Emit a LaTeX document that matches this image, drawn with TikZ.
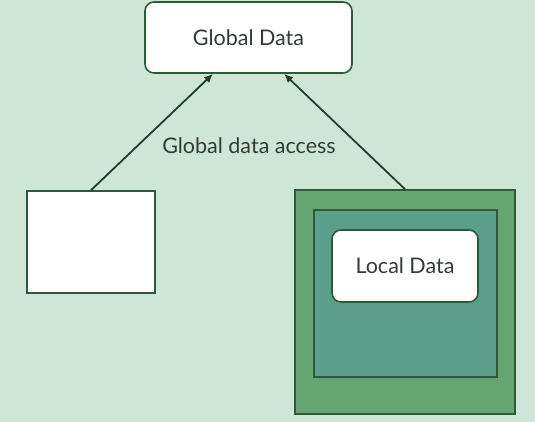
\documentclass[tikz,border=0pt]{standalone}
\usepackage{fontspec}
\setmainfont{Lato}
\usepackage{tikz}
\usetikzlibrary{arrows,arrows.meta,backgrounds,positioning,fit}
\definecolor{bgmint}{HTML}{CDE6D5}
\definecolor{outergreen}{HTML}{66A673}
\definecolor{innerteal}{HTML}{5C9E8C}
\definecolor{edgegreen}{HTML}{2F5A3A}
\definecolor{textgray}{HTML}{333B36}

\begin{document}
\begin{tikzpicture}[x=1pt, y=-1pt]
			\tikzstyle{Data}	= [draw=edgegreen, fill=white, rounded corners=9pt, line width=1.6pt, text=textgray, font=\fontsize{21.5}{25}\selectfont]
			\tikzstyle{Block}	= [draw=edgegreen, line width=1.6pt, inner sep=0pt]
			\tikzstyle{Access}	= [-{Latex[length=9pt, width=8pt]}, line width=1.8pt, edgegreen!70!black]
			
			\fill [bgmint] (0,0) rectangle (535,422);
			\useasboundingbox (0,0) rectangle (535,422);
			
			\node (global) at (248.5, 37.5) [Data, minimum width=207pt, minimum height=71pt] {Global Data};
			\node (left) at (91, 242) [Block, fill=white, minimum width=128pt, minimum height=102pt] {};
			\node (outer) at (405, 302) [Block, fill=outergreen, minimum width=220pt, minimum height=224pt] {};
			\node (inner) at (405.5, 293.5) [Block, fill=innerteal, minimum width=183pt, minimum height=167pt] {};
			\node (local) at (405, 266) [Data, minimum width=146pt, minimum height=72pt] {Local Data};
			
			\draw [Access] (left.north) to (global.south -| 213,0);
			\draw [Access] (outer.north) to (global.south -| 284,0);
			\node (access) at (249, 146) [text=textgray, font=\fontsize{21.5}{25}\selectfont] {Global data access};
		\end{tikzpicture}
\end{document}
